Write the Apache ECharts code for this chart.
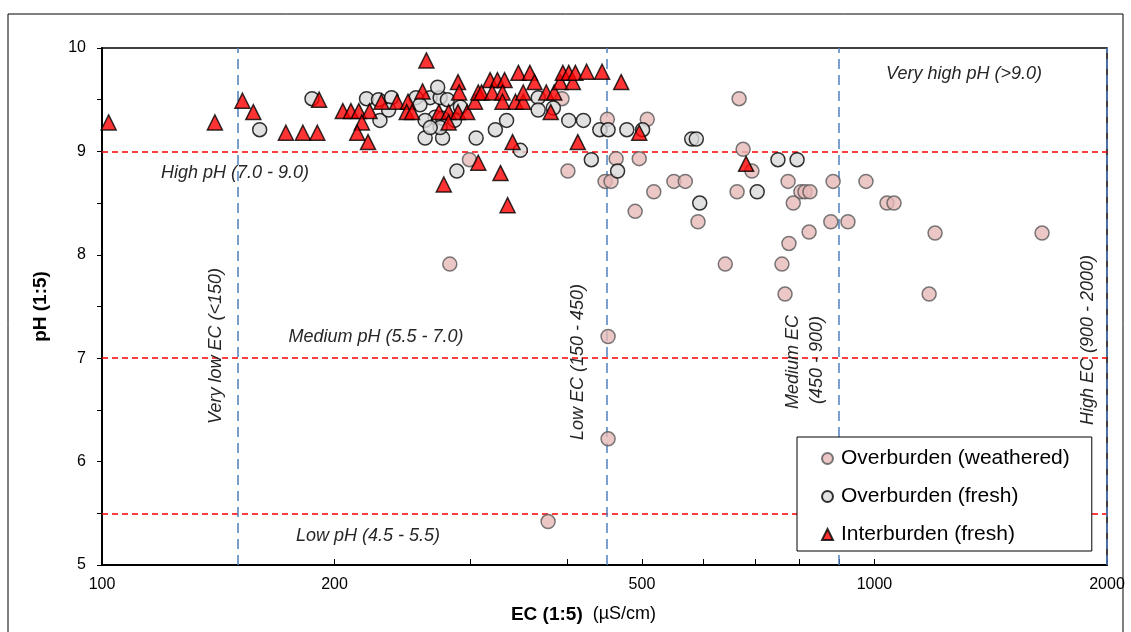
<!DOCTYPE html>
<html>
<head>
<meta charset="utf-8">
<script src="https://cdn.jsdelivr.net/npm/echarts@6/dist/echarts.min.js"></script>
<style>
  html, body { margin: 0; padding: 0; background: #fff; }
  #chart { width: 1131px; height: 632px; }
</style>
</head>
<body>
<div id="chart"></div>
<script>
// EC (µS/cm), pH pairs
const weatheredPoints = [
  [394, 9.51], [451, 9.31], [508, 9.31], [463, 8.93], [496, 8.93], [401, 8.81],
  [448, 8.71], [456, 8.71], [299, 8.92], [490, 8.42], [518, 8.61], [668, 9.51],
  [676, 9.02], [694, 8.81], [550, 8.71], [569, 8.71], [664, 8.61], [773, 8.71],
  [803, 8.61], [813, 8.61], [825, 8.61], [785, 8.50], [884, 8.71], [975, 8.71],
  [591, 8.32], [878, 8.32], [924, 8.32], [823, 8.22], [775, 8.11], [641, 7.91],
  [759, 7.91], [766, 7.62], [1038, 8.50], [1060, 8.50], [1198, 8.21], [1648, 8.21],
  [1177, 7.62], [282, 7.91], [452, 7.21], [452, 6.22], [378, 5.42]
];
const freshPoints = [
  [160, 9.21], [187, 9.51], [220, 9.51], [228, 9.50], [237, 9.52], [229, 9.30],
  [235, 9.40], [255, 9.52], [266, 9.52], [274, 9.52], [280, 9.50], [272, 9.62],
  [258, 9.45], [270, 9.33], [276, 9.32], [262, 9.30], [262, 9.13], [276, 9.13],
  [274, 9.23], [266, 9.23], [291, 9.43], [286, 9.30], [305, 9.13], [323, 9.21],
  [334, 9.30], [348, 9.01], [367, 9.52], [367, 9.40], [384, 9.42], [402, 9.30],
  [420, 9.30], [441, 9.21], [452, 9.21], [478, 9.21], [501, 9.21], [430, 8.92],
  [465, 8.81], [288, 8.81], [580, 9.12], [588, 9.12], [594, 8.50], [705, 8.61],
  [750, 8.92], [794, 8.92]
];
const interburdenPoints = [
  [102, 9.28], [140, 9.28], [152, 9.49], [157, 9.38], [173, 9.18], [182, 9.18],
  [190, 9.18], [191, 9.50], [205, 9.39], [210, 9.39], [215, 9.39], [222, 9.39],
  [217, 9.28], [214, 9.18], [221, 9.09], [230, 9.48], [241, 9.48], [249, 9.48],
  [248, 9.38], [252, 9.38], [263, 9.88], [260, 9.58], [273, 9.38], [281, 9.38],
  [281, 9.28], [289, 9.38], [289, 9.67], [290, 9.57], [297, 9.38], [304, 9.48],
  [307, 9.57], [310, 9.57], [318, 9.69], [325, 9.69], [332, 9.69], [320, 9.57],
  [330, 9.57], [330, 9.48], [343, 9.48], [351, 9.48], [351, 9.57], [346, 9.76],
  [358, 9.76], [363, 9.67], [376, 9.57], [385, 9.57], [381, 9.38], [392, 9.67],
  [407, 9.67], [395, 9.76], [402, 9.76], [410, 9.76], [424, 9.77], [444, 9.77],
  [470, 9.67], [340, 9.09], [413, 9.09], [496, 9.18], [682, 8.88], [307, 8.89],
  [277, 8.68], [328, 8.79], [335, 8.48]
];

const seriesNames = ['Overburden (weathered)', 'Overburden (fresh)', 'Interburden (fresh)'];
const xLabelValues = [100, 200, 500, 1000, 2000];
const xTickValues = [100, 200, 300, 400, 500, 600, 700, 800, 900, 1000, 2000];
const phBoundaries = [9, 7, 5.5];
const ecBoundaries = [150, 450, 900, 2000];

const chart = echarts.init(document.getElementById('chart'));

const redLine = { color: '#ff0000', type: [6, 4], width: 1.5 };
const blueLine = { color: '#4f81bd', type: [10, 6], width: 1.5 };

const noteStyle = { fill: '#262626', font: 'italic 18px "Liberation Sans", Arial, sans-serif', align: 'center', verticalAlign: 'middle' };
function note(text, x, y, rot) {
  return { type: 'text', x: x, y: y, rotation: rot || 0, z: 5, style: Object.assign({ text: text }, noteStyle) };
}

chart.setOption({
  animation: false,
  backgroundColor: '#fff',
  grid: { left: 102, top: 48, width: 1005, height: 517, show: true, borderColor: '#000', borderWidth: 1.5 },
  xAxis: {
    type: 'log',
    logBase: 10,
    min: 100,
    max: 2000,
    name: '{b|EC (1:5)}  (µS/cm)',
    nameLocation: 'middle',
    nameGap: 40,
    nameTextStyle: {
      fontSize: 18, color: '#000', fontFamily: 'Liberation Sans', padding: [0, 42, 0, 0],
      rich: { b: { fontSize: 19, fontWeight: 'bold', color: '#000', fontFamily: 'Liberation Sans' } }
    },
    axisLine: { show: true, lineStyle: { color: '#000', width: 2 } },
    axisTick: { show: true, inside: true, length: 6, customValues: xTickValues, lineStyle: { color: '#000' } },
    axisLabel: {
      customValues: xLabelValues, fontSize: 16, color: '#000', margin: 12, fontFamily: 'Liberation Sans',
      formatter: function (v) { return String(Math.round(v)); }
    },
    splitLine: { show: false },
    minorTick: { show: false }
  },
  yAxis: {
    type: 'value',
    min: 5,
    max: 10,
    interval: 0.5,
    name: 'pH (1:5)',
    nameLocation: 'middle',
    nameGap: 52,
    nameTextStyle: { fontSize: 19, fontWeight: 'bold', color: '#000', fontFamily: 'Liberation Sans' },
    axisLine: { show: true, lineStyle: { color: '#000', width: 2 } },
    axisTick: { show: true, length: 5, lineStyle: { color: '#000' } },
    axisLabel: {
      fontSize: 16, color: '#000', margin: 16, fontFamily: 'Liberation Sans',
      formatter: function (v) { return Number.isInteger(v) ? String(v) : ''; }
    },
    splitLine: { show: false }
  },
  legend: {
    orient: 'vertical',
    left: 797,
    top: 437,
    padding: [11, 22, 6, 24],
    itemGap: 17,
    itemWidth: 11,
    itemHeight: 11,
    backgroundColor: '#fff',
    borderColor: '#000',
    borderWidth: 1,
    textStyle: { fontSize: 21, color: '#000', fontFamily: 'Liberation Sans', padding: [0, 0, 0, 3] },
    data: [
      { name: seriesNames[0], icon: 'circle' },
      { name: seriesNames[1], icon: 'circle' },
      { name: seriesNames[2], icon: 'triangle' }
    ]
  },
  series: [
    {
      name: seriesNames[0],
      type: 'scatter',
      symbol: 'circle',
      symbolSize: 14,
      data: weatheredPoints,
      itemStyle: { color: '#e6b9b8', borderColor: '#595959', borderWidth: 1.5 },
      markLine: {
        silent: true,
        symbol: 'none',
        label: { show: false },
        z: 1,
        data: phBoundaries.map(v => ({ yAxis: v, lineStyle: redLine }))
          .concat(ecBoundaries.map(v => ({ xAxis: v, lineStyle: blueLine })))
      }
    },
    {
      name: seriesNames[1],
      type: 'scatter',
      symbol: 'circle',
      symbolSize: 14,
      data: freshPoints,
      itemStyle: { color: '#d9d9d9', borderColor: '#000', borderWidth: 1.5 }
    },
    {
      name: seriesNames[2],
      type: 'scatter',
      symbol: 'triangle',
      symbolSize: 15,
      data: interburdenPoints,
      itemStyle: { color: '#ff0000', borderColor: '#000', borderWidth: 1.5 }
    }
  ],
  graphic: [
    { type: 'rect', shape: { x: 8, y: 14, width: 1115, height: 640 }, style: { fill: 'none', stroke: '#000', lineWidth: 1 }, silent: true },
    note('Very high pH (>9.0)', 964, 74),
    note('High pH (7.0 - 9.0)', 235, 173),
    note('Medium pH (5.5 - 7.0)', 376, 337),
    note('Low pH (4.5 - 5.5)', 368, 536),
    note('Very low EC (<150)', 216, 346, Math.PI / 2),
    note('Low EC (150 - 450)', 578, 362, Math.PI / 2),
    note('Medium EC', 793, 362, Math.PI / 2),
    note('(450 - 900)', 817, 360, Math.PI / 2),
    note('High EC (900 - 2000)', 1088, 340, Math.PI / 2)
  ]
});

window.addEventListener('resize', () => chart.resize());
</script>
</body>
</html>
